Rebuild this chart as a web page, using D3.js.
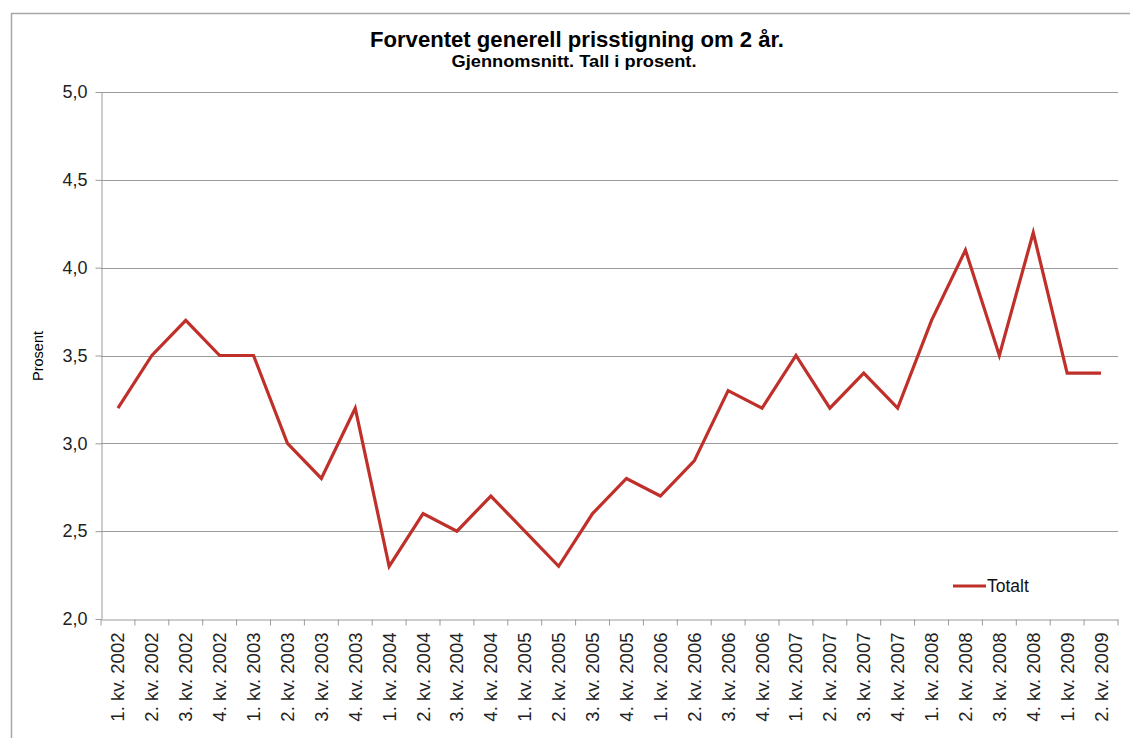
<!DOCTYPE html>
<html><head><meta charset="utf-8">
<script src="https://cdn.jsdelivr.net/npm/d3@7"></script>
<style>body{margin:0;background:#fff;}svg{display:block;font-family:"Liberation Sans",Arial,sans-serif;}</style>
</head><body><svg id="c" width="1130" height="738"></svg>
<script>
const categories = ["1. kv. 2002","2. kv. 2002","3. kv. 2002","4. kv. 2002","1. kv. 2003","2. kv. 2003","3. kv. 2003","4. kv. 2003","1. kv. 2004","2. kv. 2004","3. kv. 2004","4. kv. 2004","1. kv. 2005","2. kv. 2005","3. kv. 2005","4. kv. 2005","1. kv. 2006","2. kv. 2006","3. kv. 2006","4. kv. 2006","1. kv. 2007","2. kv. 2007","3. kv. 2007","4. kv. 2007","1. kv. 2008","2. kv. 2008","3. kv. 2008","4. kv. 2008","1. kv. 2009","2. kv. 2009"];
const totalt = [3.2,3.5,3.7,3.5,3.5,3.0,2.8,3.2,2.3,2.6,2.5,2.7,2.5,2.3,2.6,2.8,2.7,2.9,3.3,3.2,3.5,3.2,3.4,3.2,3.7,4.1,3.5,4.2,3.4,3.4];
const yTicks = [2.0,2.5,3.0,3.5,4.0,4.5,5.0];
const title = "Forventet generell prisstigning om 2 år.";
const subtitle = "Gjennomsnitt. Tall i prosent.";
const yTitle = "Prosent";
const seriesName = "Totalt";

const svg = d3.select("#c");
const L=101, R=1118, T=92, B=619;
const x = d3.scaleBand().domain(categories).range([L,R]);
const y = d3.scaleLinear().domain([2,5]).range([B,T]);
const fmt = d => d.toFixed(1).replace(".", ",");

// outer frame
svg.append("path").attr("d","M11.5,738 V13.5 H1130").attr("fill","none").attr("stroke","#a6a6a6").attr("stroke-width",1.5);

// gridlines
svg.append("g").selectAll("line").data(yTicks.filter(d=>d>2)).join("line")
  .attr("x1",L).attr("x2",R).attr("y1",d=>Math.round(y(d))+0.5).attr("y2",d=>Math.round(y(d))+0.5)
  .attr("stroke","#9a9a9a").attr("stroke-width",1);

// y axis
const ya = svg.append("g").attr("transform",`translate(${L+0.5},0)`)
  .call(d3.axisLeft(y).tickValues(yTicks).tickFormat(fmt).tickSize(6).tickSizeOuter(0));
ya.select(".domain").attr("stroke","#9a9a9a");
ya.selectAll(".tick line").attr("stroke","#9a9a9a");
ya.selectAll("text").attr("font-size",18).attr("fill","#222").attr("x",-14).attr("font-family","Liberation Sans, Arial, sans-serif");

// x axis
const xa = svg.append("g").attr("transform",`translate(0,${B+0.5})`)
  .call(d3.axisBottom(x).tickSize(6).tickSizeOuter(0));
xa.select(".domain").attr("stroke","#9a9a9a");
xa.selectAll(".tick line").attr("stroke","#9a9a9a").attr("x1",-x.bandwidth()/2).attr("x2",-x.bandwidth()/2);
xa.append("line").attr("x1",R).attr("x2",R).attr("y1",0).attr("y2",6).attr("stroke","#9a9a9a");
xa.selectAll(".tick text").attr("font-size",18.5).attr("fill","#222").attr("font-family","Liberation Sans, Arial, sans-serif")
  .attr("transform","rotate(-90)").attr("text-anchor","end").attr("x",-13).attr("y",0).attr("dy","0.35em");

// line
const line = d3.line().x((d,i)=>x(categories[i])+x.bandwidth()/2).y(d=>y(d));
svg.append("path").datum(totalt).attr("d",line).attr("fill","none").attr("stroke","#c0302a").attr("stroke-width",3.2).attr("stroke-linejoin","miter");

// titles
svg.append("text").attr("x",577).attr("y",47).attr("text-anchor","middle").attr("font-size",22).attr("font-weight","bold").attr("fill","#000")
  .attr("textLength",414).attr("lengthAdjust","spacingAndGlyphs").text(title);
svg.append("text").attr("x",574).attr("y",67).attr("text-anchor","middle").attr("font-size",17).attr("font-weight","bold").attr("fill","#000")
  .attr("textLength",245).attr("lengthAdjust","spacingAndGlyphs").text(subtitle);
svg.append("text").attr("transform","translate(43,356) rotate(-90)").attr("text-anchor","middle").attr("font-size",14.5).attr("fill","#000").text(yTitle);

// legend
svg.append("line").attr("x1",953).attr("x2",986).attr("y1",586).attr("y2",586).attr("stroke","#c0302a").attr("stroke-width",3.2);
svg.append("text").attr("x",987).attr("y",592).attr("font-size",17.5).attr("fill","#111").text(seriesName);
</script></body></html>
